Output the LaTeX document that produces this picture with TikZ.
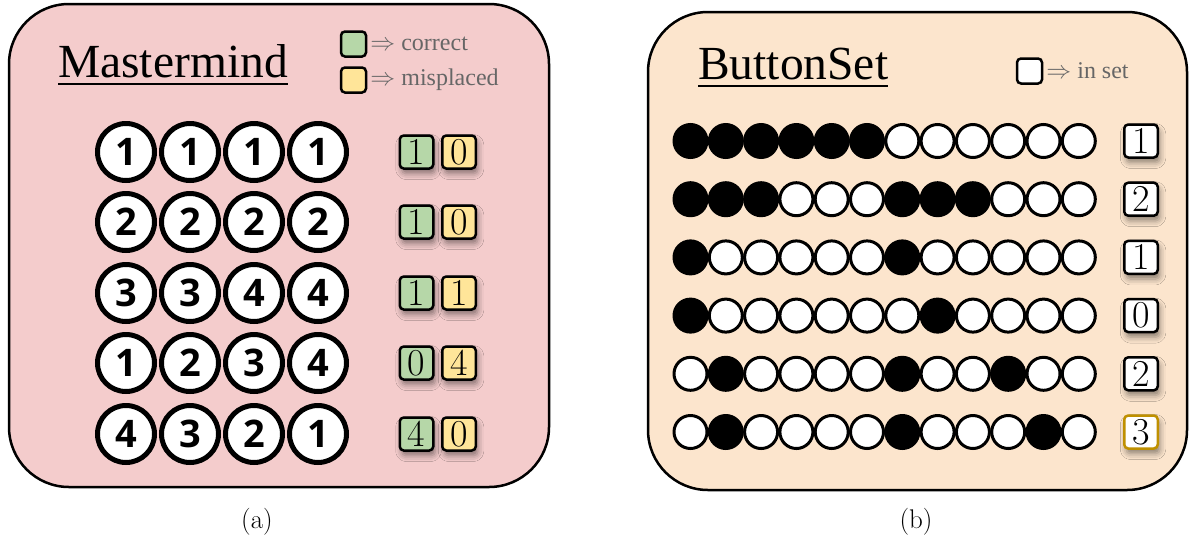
\documentclass[tikz,border=0pt]{standalone}
\usepackage{fontspec}
\newfontfamily\titlefont{Liberation Serif}
\newfontfamily\numfont{Open Sans}
\usetikzlibrary{shadows.blur}
\definecolor{pinkbg}{HTML}{F4CCCC}
\definecolor{peachbg}{HTML}{FCE5CD}
\definecolor{okgreen}{HTML}{B6D7A8}
\definecolor{okyellow}{HTML}{FFE599}
\definecolor{goldedge}{HTML}{BF9000}
\definecolor{leggray}{HTML}{666666}
\colorlet{c0}{white}
\colorlet{c1}{black}
\newcommand\btnrow[3]{%
  \foreach \b [count=\k] in {#3} \node[btn, fill=c\b] (b#1-\k) at ({655.2+35.3*\k}, #2) {};%
}
\begin{document}
\begin{tikzpicture}[x=1pt,y=-1pt,
  panel/.style={draw, line width=2.5, rounded corners=60},
  peg/.style={circle, draw, line width=5, fill=white, minimum size=57, inner sep=0,
    font=\numfont\bfseries\fontsize{38}{38}\selectfont},
  score/.style={draw, line width=2.5, rounded corners=4, minimum width=33.5, minimum height=33,
    inner sep=0, font=\fontsize{38}{38}\selectfont,
    blur shadow={shadow xshift=2pt, shadow yshift=-5pt, shadow blur radius=6pt, shadow opacity=45}},
  btn/.style={circle, draw, line width=3, minimum size=33, inner sep=0},
  legbox/.style={draw, line width=2.5, rounded corners=4, minimum width=25, minimum height=25, inner sep=0},
  legtext/.style={anchor=west, text=leggray, inner sep=3, font=\titlefont\fontsize{24}{24}\selectfont},
  title/.style={anchor=base west, inner sep=0, font=\titlefont\fontsize{47.5}{47.5}\selectfont},
  captext/.style={font=\fontsize{27}{27}\selectfont}
]
\useasboundingbox (0,0) rectangle (1193,544);
% panels
\draw[panel, fill=pinkbg] (9,4) rectangle (549,487);
\draw[panel, fill=peachbg] (648,12) rectangle (1187,490);
% titles
\node[title] (mt) at (58,77) {Mastermind};
\draw[line width=2.5] ([yshift=-7pt]mt.base west) -- ([yshift=-7pt]mt.base east);
\node[title] (bt) at (698,79) {ButtonSet};
\draw[line width=2.5] ([yshift=-7pt]bt.base west) -- ([yshift=-7pt]bt.base east);
% legend (a)
\node[legbox, fill=okgreen] (lg) at (353.5,44) {};
\node[legtext] (lgt) at (lg.east) {$\Rightarrow$ correct};
\node[legbox, fill=okyellow] (ly) at (353.5,80) {};
\node[legtext] (lyt) at (ly.east) {$\Rightarrow$ misplaced};
% legend (b)
\node[legbox, fill=white] (lw) at (1029.5,71) {};
\node[legtext] (lwt) at (lw.east) {$\Rightarrow$ in set};
% mastermind rows
\foreach \row/\a/\bb/\c/\d/\g/\m [count=\r] in {152/1/1/1/1/1/0, 222/2/2/2/2/1/0, 293/3/3/4/4/1/1, 363/1/2/3/4/0/4, 434/4/3/2/1/4/0} {
  \foreach \v [count=\k] in {\a,\bb,\c,\d}
    \node[peg] (p\r-\k) at ({62+64*\k},\row) {\v};
  \node[score, fill=okgreen] (g\r) at (416.5,\row) {\g};
  \node[score, fill=okyellow] (y\r) at (459,\row) {\m};
}
% buttonset rows
\btnrow{1}{141}{1,1,1,1,1,1,0,0,0,0,0,0}
\btnrow{2}{199.2}{1,1,1,0,0,0,1,1,1,0,0,0}
\btnrow{3}{257.4}{1,0,0,0,0,0,1,0,0,0,0,0}
\btnrow{4}{315.6}{1,0,0,0,0,0,0,1,0,0,0,0}
\btnrow{5}{373.8}{0,1,0,0,0,0,1,0,0,1,0,0}
\btnrow{6}{432}{0,1,0,0,0,0,1,0,0,0,1,0}
\node[score, fill=white] (s1) at (1141,141) {1};
\node[score, fill=white] (s2) at (1141,199.2) {2};
\node[score, fill=white] (s3) at (1141,257.4) {1};
\node[score, fill=white] (s4) at (1141,315.6) {0};
\node[score, fill=white] (s5) at (1141,373.8) {2};
\node[score, fill=white, draw=goldedge] (s6) at (1141,432) {3};
% captions
\node[captext] (ca) at (257,522) {(a)};
\node[captext] (cb) at (916,522) {(b)};
\end{tikzpicture}
\end{document}
